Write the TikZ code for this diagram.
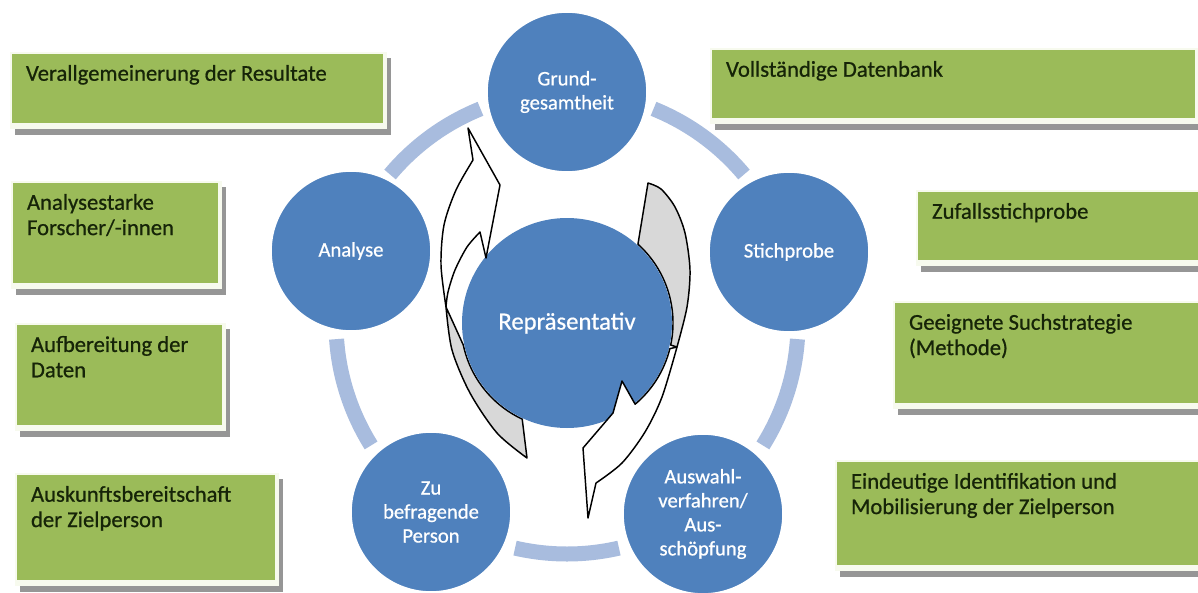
\documentclass[tikz,border=0pt]{standalone}
\usepackage{fontspec}
\setmainfont{Carlito}
\newfontfamily\labelfont{Carlito}[FakeBold=0.7]
\definecolor{accentblue}{RGB}{79,129,189}
\definecolor{ringblue}{RGB}{168,188,222}
\definecolor{boxgreen}{RGB}{155,187,89}
\definecolor{boxtext}{RGB}{22,36,8}
\definecolor{boxshadow}{RGB}{150,150,150}
\definecolor{boxrim}{RGB}{247,250,238}
\definecolor{backgrey}{RGB}{216,216,216}

% green note box: name, x1, y1, x2, y2 (pixel grid), text
\newcommand\greenbox[6]{%
  \fill[boxshadow] (#2+3,#3+4) rectangle (#4+8,#5+12);
  \fill[boxrim] (#2-2,#3-2) rectangle (#4+4,#5+6);
  \node[gbox, minimum width={(#4-#2)*0.75pt}, minimum height={(#5-#3)*0.75pt}] (#1) at ({(#2+#4)/2},{(#3+#5)/2}) {};
  \node[gtext] (#1txt) at ([xshift=10.5pt,yshift=-8.25pt]#1.north west) {#6};
}

\begin{document}
\begin{tikzpicture}[x=0.75pt,y=-0.75pt,
  ringseg/.style={draw=ringblue, line width=11.25pt},
  bubble/.style={circle, fill=accentblue, draw=white, line width=1.2pt, minimum size=120pt,
    inner sep=0pt, text=white, align=center, font=\labelfont\fontsize{15.5}{18}\selectfont},
  hub/.style={circle, fill=accentblue, minimum size=157.5pt, inner sep=0pt, text=white,
    font=\labelfont\fontsize{18.5}{22}\selectfont},
  gbox/.style={rectangle, fill=boxgreen, inner sep=0pt},
  gtext/.style={anchor=north west, inner sep=0pt, align=left, text=boxtext,
    font=\labelfont\fontsize{17}{19}\selectfont},
  arrowback/.style={fill=backgrey, draw=black, line width=1.1pt, line join=round},
  arrowfront/.style={fill=white, draw=black, line width=1.1pt, line join=round}]

\fill[white] (0,0) rectangle (1198,592);
\useasboundingbox (0,0) rectangle (1198,592);

\coordinate (C) at (567,323);

% ring segments between the cycle stages
\foreach \a/\b in {-68/-40, 4/32, 77/103, 148/176, 220/248}
  \draw[ringseg] ([shift={(\a:231)}]C) arc[start angle=\a, end angle=\b, radius=231];

% cycle stages
\node[bubble] (grund)   at (567,92)  {Grund-\\gesamtheit};
\node[bubble] (stich)   at (789,252) {Stichprobe};
\node[bubble] (ausw)    at (703,514) {Auswahl-\\verfahren/\\Aus-\\schöpfung};
\node[bubble] (zu)      at (431,512) {Zu\\befragende\\Person};
\node[bubble] (analyse) at (351,251) {Analyse};

% back (shaded) halves of the two curved arrows
\filldraw[arrowback] plot[smooth] coordinates {(446,307) (452,350) (470,393) (497,433) (527,458)}
  -- ([shift={(115:106)}]C) arc[start angle=115, end angle=168, radius=106] -- cycle;
\filldraw[arrowback] plot[smooth] coordinates {(648,183) (661,189) (675,207) (685,233) (690,270) (687,307) (677,347)}
  -- ([shift={(12:106)}]C) arc[start angle=12, end angle=-48, radius=106] -- cycle;

% centre
\node[hub] (rep) at (C) {Repräsentativ};

% front halves with arrow heads
\filldraw[arrowfront] plot[smooth] coordinates {(446,307) (441,265) (444,225) (456,190) (473,160)}
  -- (468,128) -- (500,185) -- (486,258) -- (480,232)
  -- plot[smooth] coordinates {(480,232) (467,247) (455,270) (448,292) (446,307)} -- cycle;
\filldraw[arrowfront] plot[smooth] coordinates {(677,347) (662,397) (645,432) (622,463) (596,483)}
  -- (588,518) -- (583,448) -- (613,413) -- (622,381)
  -- ([shift={(50:106)}]C) arc[start angle=50, end angle=14, radius=106] -- cycle;

% notes
\greenbox{b1}{12}{54}{383}{123}{Verallgemeinerung der Resultate}
\greenbox{b2}{13}{183}{218}{283}{Analysestarke\\Forscher/-innen}
\greenbox{b3}{17}{325}{222}{425}{Aufbereitung der\\Daten}
\greenbox{b4}{17}{475}{275}{580}{Auskunftsbereitschaft\\der Zielperson}
\greenbox{b5}{712}{50}{1195}{118}{Vollständige Datenbank}
\greenbox{b6}{918}{192}{1198}{260}{Zufallsstichprobe}
\greenbox{b7}{895}{303}{1198}{403}{Geeignete Suchstrategie\\(Methode)}
\greenbox{b8}{837}{462}{1198}{565}{Eindeutige Identifikation und\\Mobilisierung der Zielperson}

\end{tikzpicture}
\end{document}
